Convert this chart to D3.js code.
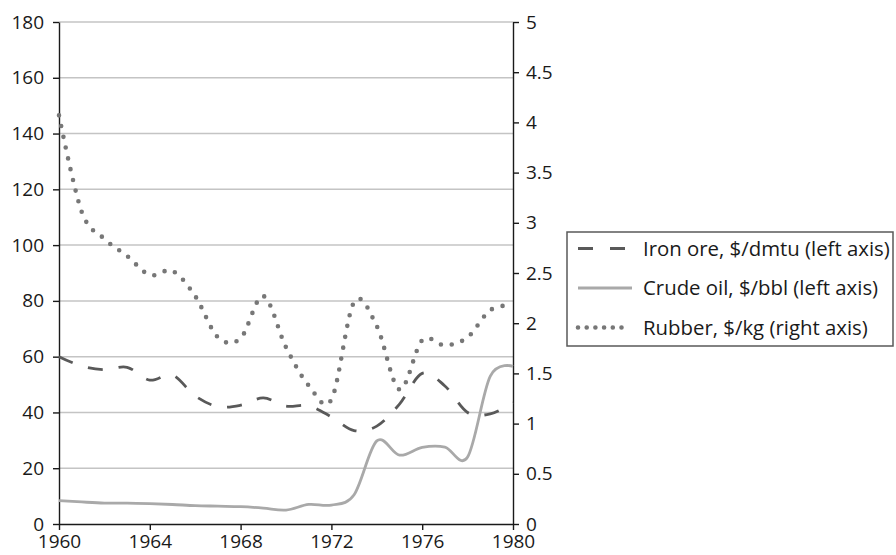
<!DOCTYPE html>
<html>
<head>
<meta charset="utf-8">
<script src="https://cdn.jsdelivr.net/npm/d3@7"></script>
<style>
  html, body { margin: 0; padding: 0; background: #fff; }
  svg { display: block; }
  text { font-family: "Open Sans", Lato, sans-serif; fill: #1a1a1a; }
</style>
</head>
<body>
<svg id="chart" width="896" height="555"></svg>
<script>
// ---- data ----
const years = [1960,1961,1962,1963,1964,1965,1966,1967,1968,1969,1970,1971,1972,1973,1974,1975,1976,1977,1978,1979,1980];
const ironOre = [60, 56.6, 55.3, 56.2, 51.6, 53.4, 45.9, 42.1, 42.6, 45.2, 42.3, 42.4, 38.4, 33.5, 35.1, 43.0, 54.0, 49.5, 40.0, 39.5, 43.5];
const crudeOil = [8.4, 7.9, 7.5, 7.5, 7.3, 7.0, 6.6, 6.4, 6.2, 5.7, 5.0, 7.0, 6.8, 10.5, 29.8, 24.7, 27.5, 27.6, 24.0, 53.0, 56.5];
const rubber = [4.07, 3.11, 2.84, 2.67, 2.48, 2.52, 2.27, 1.86, 1.85, 2.27, 1.76, 1.38, 1.24, 2.21, 1.97, 1.34, 1.83, 1.78, 1.86, 2.13, 2.18];
const leftTicks = [0,20,40,60,80,100,120,140,160,180];
const rightTicks = [0,0.5,1,1.5,2,2.5,3,3.5,4,4.5,5];
const xTicks = [1960,1964,1968,1972,1976,1980];
const seriesNames = ["Iron ore, $/dmtu (left axis)", "Crude oil, $/bbl (left axis)", "Rubber, $/kg (right axis)"];

// ---- layout ----
const svg = d3.select("#chart");
const x = d3.scaleLinear().domain([1960,1980]).range([59,513]);
const yL = d3.scaleLinear().domain([0,180]).range([524,22]);
const yR = d3.scaleLinear().domain([0,5]).range([524,22]);
const FS = 19;
const FONT = "'Open Sans', Lato, sans-serif";

// gridlines
svg.append("g").selectAll("line")
  .data(leftTicks.filter(d => d > 0))
  .join("line")
  .attr("x1", x(1960)).attr("x2", x(1980))
  .attr("y1", d => yL(d)).attr("y2", d => yL(d))
  .attr("stroke", "#c4c4c4").attr("stroke-width", 1.5);

// axes
function styleAxis(g) {
  g.select(".domain").attr("stroke", "#1a1a1a").attr("stroke-width", 1.4);
  g.selectAll(".tick line").attr("stroke", "#1a1a1a").attr("stroke-width", 1.4);
  g.selectAll(".tick text").attr("font-size", FS).attr("font-family", FONT).attr("fill", "#1a1a1a");
}
const gl = svg.append("g").attr("transform", `translate(${x(1960)},0)`)
  .call(d3.axisLeft(yL).tickValues(leftTicks).tickFormat(d3.format("d")).tickSize(6).tickSizeOuter(0).tickPadding(9));
styleAxis(gl);
const gr = svg.append("g").attr("transform", `translate(${x(1980)},0)`)
  .call(d3.axisRight(yR).tickValues(rightTicks).tickFormat(d3.format("~g")).tickSize(6).tickSizeOuter(0).tickPadding(7));
styleAxis(gr);
const gb = svg.append("g").attr("transform", `translate(0,${yL(0)})`)
  .call(d3.axisBottom(x).tickValues(xTicks).tickFormat(d3.format("d")).tickSize(6).tickSizeOuter(0).tickPadding(5));
styleAxis(gb);

// lines
const curve = d3.curveCardinal.tension(0);
const lineL = d3.line().x((d,i) => x(years[i])).y(d => yL(d)).curve(curve);
const lineR = d3.line().x((d,i) => x(years[i])).y(d => yR(d)).curve(curve);

const styles = [
  {stroke: "#595959", width: 2.8, dash: "15,16", cap: "butt"},
  {stroke: "#a9a9a9", width: 2.8, dash: null, cap: "butt"},
  {stroke: "#777777", width: 4.6, dash: "0,11", cap: "round"}
];

svg.append("path").datum(ironOre).attr("d", lineL)
  .attr("fill", "none").attr("stroke", styles[0].stroke).attr("stroke-width", styles[0].width)
  .attr("stroke-dasharray", styles[0].dash);
svg.append("path").datum(crudeOil).attr("d", lineL)
  .attr("fill", "none").attr("stroke", styles[1].stroke).attr("stroke-width", styles[1].width);
svg.append("path").datum(rubber).attr("d", lineR)
  .attr("fill", "none").attr("stroke", styles[2].stroke).attr("stroke-width", styles[2].width)
  .attr("stroke-dasharray", styles[2].dash).attr("stroke-linecap", "round");

// legend
const lg = svg.append("g");
lg.append("rect").attr("x", 567).attr("y", 232).attr("width", 326).attr("height", 114)
  .attr("fill", "#fff").attr("stroke", "#595959").attr("stroke-width", 1.5);
const rowY = [248.5, 288, 327.5];
const texts = [];
seriesNames.forEach((name, i) => {
  const s = styles[i];
  const ln = lg.append("line").attr("x1", 578).attr("x2", i === 2 ? 625 : 632)
    .attr("y1", rowY[i]).attr("y2", rowY[i])
    .attr("stroke", s.stroke).attr("stroke-width", s.width)
    .attr("stroke-linecap", s.cap);
  if (i === 0) ln.attr("stroke-dasharray", "15,17");
  if (i === 2) ln.attr("stroke-dasharray", "0,8.7");
  texts.push(lg.append("text").attr("x", 643).attr("y", rowY[i]).attr("dy", "0.36em")
    .attr("font-size", FS).attr("font-family", FONT).text(name));
});
// fit legend text width to the box (longest entry ~248px)
const maxW = d3.max(texts, t => t.node().getComputedTextLength());
const lfs = Math.min(21, FS * 247 / maxW);
texts.forEach(t => t.attr("font-size", lfs));
</script>
</body>
</html>
